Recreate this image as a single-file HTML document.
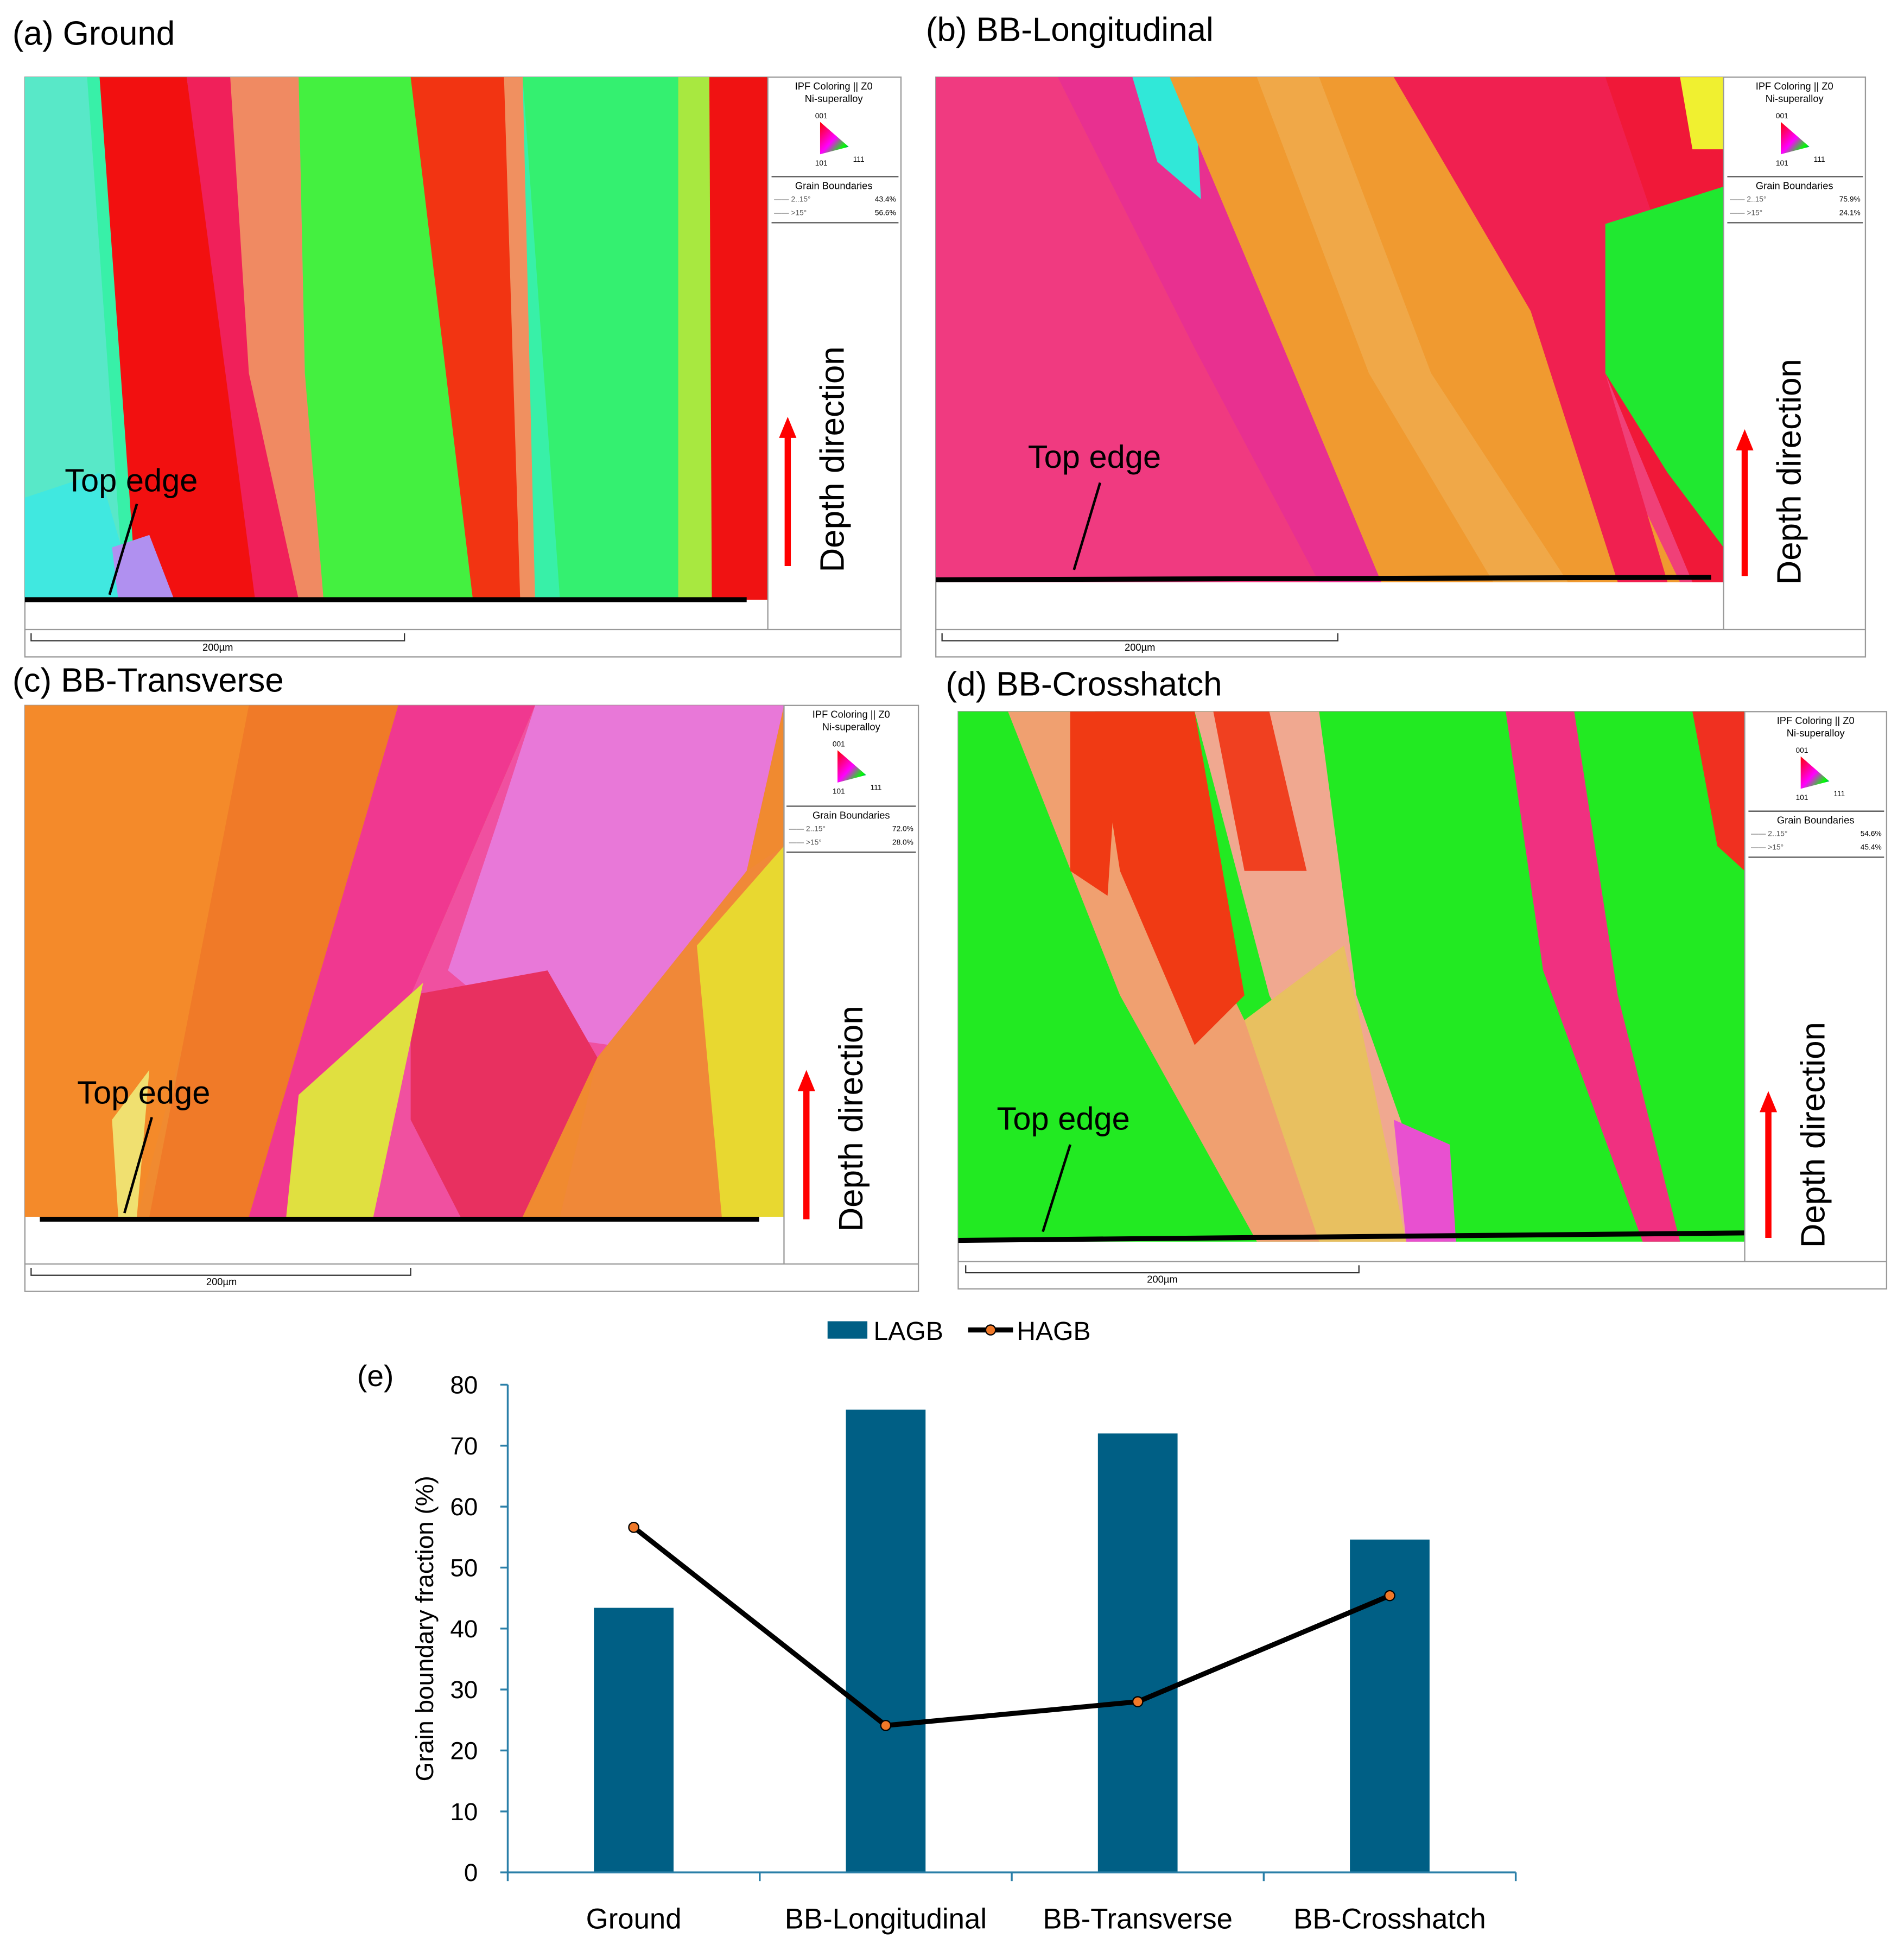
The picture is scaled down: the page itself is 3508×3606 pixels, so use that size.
<!DOCTYPE html>
<html><head><meta charset="utf-8"><style>
html,body{margin:0;padding:0;background:#fff}
svg{display:block}
text{font-family:"Liberation Sans",sans-serif}
</style></head><body>
<svg id="fig" width="3508" height="3606" viewBox="0 0 1530 1573" preserveAspectRatio="none" xmlns="http://www.w3.org/2000/svg">
<defs>
<linearGradient id="ipf" x1="0" y1="0" x2="1" y2="1"><stop offset="0" stop-color="#f00"/><stop offset="0.5" stop-color="#f0f"/><stop offset="0.8" stop-color="#0f0"/><stop offset="1" stop-color="#00f"/></linearGradient>
</defs>

<!-- Panel titles -->
<text x="10" y="36" font-size="27">(a) Ground</text>
<text x="744" y="33" font-size="27">(b) BB-Longitudinal</text>
<text x="10" y="556" font-size="27">(c) BB-Transverse</text>
<text x="760" y="559" font-size="27">(d) BB-Crosshatch</text>

<!-- Panel (a) -->
<g>
<rect x="20" y="62" width="704" height="466" fill="#fff" stroke="#999" stroke-width="1"/>
<g>
<rect x="20" y="62" width="597" height="420" fill="#38f0a8"/>
<polygon points="20,62 70,62 100,482 20,482" fill="#58e8c8"/>
<polygon points="80,62 150,62 210,482 110,482" fill="#f21010"/>
<polygon points="150,62 185,62 260,482 205,482" fill="#f0205a"/>
<polygon points="185,62 240,62 245,300 265,482 240,482 200,300" fill="#f08a62"/>
<polygon points="240,62 340,62 380,482 260,482 245,300" fill="#44f040"/>
<polygon points="330,62 420,62 425,482 380,482" fill="#f23412"/>
<polygon points="405,62 420,62 430,482 418,482" fill="#f09060"/>
<polygon points="420,62 555,62 545,482 450,482" fill="#34f070"/>
<polygon points="545,62 572,62 572,482 545,482" fill="#a8e840"/>
<polygon points="570,62 617,62 617,482 572,482" fill="#f01212"/>
<polygon points="20,400 80,380 110,482 20,482" fill="#40e8e0"/>
<polygon points="90,440 120,430 140,482 95,482" fill="#b090f0"/>
</g>
<line x1="20" y1="482" x2="600" y2="482" stroke="#000" stroke-width="4"/>
<line x1="617" y1="62" x2="617" y2="506" stroke="#999"/>
<line x1="20" y1="506" x2="724" y2="506" stroke="#999"/>
<path d="M25,509 V515 H325 V509" fill="none" stroke="#333"/>
<text x="175" y="523" font-size="8" text-anchor="middle">200µm</text>
<text x="670" y="72" font-size="8" text-anchor="middle">IPF Coloring || Z0</text>
<text x="670" y="82" font-size="8" text-anchor="middle">Ni-superalloy</text>
<text x="660" y="95" font-size="6" text-anchor="middle">001</text>
<polygon points="659,98 659,124 682,118" fill="url(#ipf)"/>
<text x="660" y="133" font-size="6" text-anchor="middle">101</text><text x="690" y="130" font-size="6" text-anchor="middle">111</text>
<line x1="620" y1="142" x2="722" y2="142" stroke="#555"/>
<text x="670" y="152" font-size="8" text-anchor="middle">Grain Boundaries</text>
<text x="622" y="162" font-size="6" fill="#555">—— 2..15°</text><text x="720" y="162" font-size="6" text-anchor="end">43.4%</text>
<text x="622" y="173" font-size="6" fill="#555">—— &gt;15°</text><text x="720" y="173" font-size="6" text-anchor="end">56.6%</text>
<line x1="620" y1="179" x2="722" y2="179" stroke="#555"/>
<text x="52" y="395" font-size="26">Top edge</text>
<line x1="110" y1="405" x2="88" y2="478" stroke="#000" stroke-width="2"/>
<line x1="633" y1="455" x2="633" y2="350" stroke="#f00" stroke-width="5"/><polygon points="626,352 640,352 633,335" fill="#f00"/>
<text transform="translate(678,460) rotate(-90)" font-size="27">Depth direction</text>
</g>

<!-- Panel (b) -->
<g>
<rect x="752" y="62" width="747" height="466" fill="#fff" stroke="#999"/>
<g>
<rect x="752" y="62" width="633" height="406" fill="#f04078"/>
<polygon points="752,62 910,62 1000,300 1100,468 752,468" fill="#f03a80"/>
<polygon points="850,62 940,62 1040,300 1110,468 1060,468 960,280" fill="#e83090"/>
<polygon points="910,62 960,62 965,160 930,130" fill="#30e8d8"/>
<polygon points="940,62 1120,62 1250,260 1350,468 1110,468 1040,300" fill="#f09a30"/>
<polygon points="1010,62 1060,62 1150,300 1260,468 1200,468 1100,300" fill="#f0a848"/>
<polygon points="1120,62 1290,62 1330,180 1290,300 1340,468 1300,468 1230,250" fill="#f02050"/>
<polygon points="1290,62 1385,62 1385,468 1360,468 1290,300 1330,180" fill="#f01838"/>
<polygon points="1290,180 1385,150 1385,440 1340,380 1290,300" fill="#20e830"/>
<polygon points="1350,62 1385,62 1385,120 1360,120" fill="#f0f030"/>
</g>
<line x1="752" y1="466" x2="1375" y2="464" stroke="#000" stroke-width="4"/>
<line x1="1385" y1="62" x2="1385" y2="506" stroke="#999"/>
<line x1="752" y1="506" x2="1499" y2="506" stroke="#999"/>
<path d="M757,509 V515 H1075 V509" fill="none" stroke="#333"/>
<text x="916" y="523" font-size="8" text-anchor="middle">200µm</text>
<text x="1442" y="72" font-size="8" text-anchor="middle">IPF Coloring || Z0</text>
<text x="1442" y="82" font-size="8" text-anchor="middle">Ni-superalloy</text>
<text x="1432" y="95" font-size="6" text-anchor="middle">001</text>
<polygon points="1431,98 1431,124 1454,118" fill="url(#ipf)"/>
<text x="1432" y="133" font-size="6" text-anchor="middle">101</text><text x="1462" y="130" font-size="6" text-anchor="middle">111</text>
<line x1="1388" y1="142" x2="1497" y2="142" stroke="#555"/>
<text x="1442" y="152" font-size="8" text-anchor="middle">Grain Boundaries</text>
<text x="1390" y="162" font-size="6" fill="#555">—— 2..15°</text><text x="1495" y="162" font-size="6" text-anchor="end">75.9%</text>
<text x="1390" y="173" font-size="6" fill="#555">—— &gt;15°</text><text x="1495" y="173" font-size="6" text-anchor="end">24.1%</text>
<line x1="1388" y1="179" x2="1497" y2="179" stroke="#555"/>
<text x="826" y="376" font-size="26">Top edge</text>
<line x1="884" y1="388" x2="863" y2="458" stroke="#000" stroke-width="2"/>
<line x1="1402" y1="463" x2="1402" y2="360" stroke="#f00" stroke-width="5"/><polygon points="1395,362 1409,362 1402,345" fill="#f00"/>
<text transform="translate(1447,470) rotate(-90)" font-size="27">Depth direction</text>
</g>

<!-- Panel (c) -->
<g>
<rect x="20" y="567" width="718" height="471" fill="#fff" stroke="#999"/>
<g>
<rect x="20" y="567" width="610" height="411" fill="#f08a30"/>
<polygon points="20,567 220,567 110,978 20,978" fill="#f48a2a"/>
<polygon points="200,567 320,567 200,978 120,978" fill="#f07a28"/>
<polygon points="320,567 430,567 330,800 250,978 200,978" fill="#f03890"/>
<polygon points="430,567 630,567 600,700 480,850 400,978 260,978 330,800" fill="#f050a0"/>
<polygon points="430,567 630,567 600,700 490,840 420,830 360,780 400,660" fill="#e878d8"/>
<polygon points="330,800 440,780 480,850 420,978 370,978 330,900" fill="#e83060"/>
<polygon points="480,850 600,700 630,680 630,978 450,978" fill="#f08838"/>
<polygon points="560,760 630,680 630,978 580,978" fill="#e8d830"/>
<polygon points="240,880 340,790 300,978 230,978" fill="#e0e040"/>
<polygon points="90,900 120,860 110,978 95,978" fill="#f0e070"/>
</g>
<line x1="32" y1="980" x2="610" y2="980" stroke="#000" stroke-width="4"/>
<line x1="630" y1="567" x2="630" y2="1016" stroke="#999"/>
<line x1="20" y1="1016" x2="738" y2="1016" stroke="#999"/>
<path d="M25,1019 V1025 H330 V1019" fill="none" stroke="#333"/>
<text x="178" y="1033" font-size="8" text-anchor="middle">200µm</text>
<text x="684" y="577" font-size="8" text-anchor="middle">IPF Coloring || Z0</text>
<text x="684" y="587" font-size="8" text-anchor="middle">Ni-superalloy</text>
<text x="674" y="600" font-size="6" text-anchor="middle">001</text>
<polygon points="673,603 673,629 696,623" fill="url(#ipf)"/>
<text x="674" y="638" font-size="6" text-anchor="middle">101</text><text x="704" y="635" font-size="6" text-anchor="middle">111</text>
<line x1="632" y1="648" x2="736" y2="648" stroke="#555"/>
<text x="684" y="658" font-size="8" text-anchor="middle">Grain Boundaries</text>
<text x="634" y="668" font-size="6" fill="#555">—— 2..15°</text><text x="734" y="668" font-size="6" text-anchor="end">72.0%</text>
<text x="634" y="679" font-size="6" fill="#555">—— &gt;15°</text><text x="734" y="679" font-size="6" text-anchor="end">28.0%</text>
<line x1="632" y1="685" x2="736" y2="685" stroke="#555"/>
<text x="62" y="887" font-size="26">Top edge</text>
<line x1="122" y1="898" x2="100" y2="975" stroke="#000" stroke-width="2"/>
<line x1="648" y1="980" x2="648" y2="875" stroke="#f00" stroke-width="5"/><polygon points="641,877 655,877 648,860" fill="#f00"/>
<text transform="translate(693,990) rotate(-90)" font-size="27">Depth direction</text>
</g>

<!-- Panel (d) -->
<g>
<rect x="770" y="572" width="746" height="464" fill="#fff" stroke="#999"/>
<g>
<rect x="770" y="572" width="632" height="426" fill="#22ea22"/>
<polygon points="810,572 880,572 1000,820 1130,998 1010,998 900,800" fill="#f0a070"/>
<polygon points="860,572 900,572 890,720 860,700" fill="#f03a14"/>
<polygon points="880,572 960,572 1000,800 960,840 900,700" fill="#f03a14"/>
<polygon points="960,572 1060,572 1090,800 1160,998 1120,998 1020,800" fill="#f0a890"/>
<polygon points="975,572 1020,572 1050,700 1000,700" fill="#f04020"/>
<polygon points="1000,820 1080,760 1130,998 1060,998" fill="#e8c060"/>
<polygon points="1120,900 1165,920 1170,998 1130,998" fill="#e850d0"/>
<polygon points="1210,572 1265,572 1300,800 1350,998 1320,998 1240,780" fill="#f03080"/>
<polygon points="1360,572 1402,572 1402,700 1380,680" fill="#f03020"/>
</g>
<line x1="770" y1="997" x2="1402" y2="991" stroke="#000" stroke-width="4"/>
<line x1="1402" y1="572" x2="1402" y2="1014" stroke="#999"/>
<line x1="770" y1="1014" x2="1516" y2="1014" stroke="#999"/>
<path d="M776,1017 V1023 H1092 V1017" fill="none" stroke="#333"/>
<text x="934" y="1031" font-size="8" text-anchor="middle">200µm</text>
<text x="1459" y="582" font-size="8" text-anchor="middle">IPF Coloring || Z0</text>
<text x="1459" y="592" font-size="8" text-anchor="middle">Ni-superalloy</text>
<text x="1448" y="605" font-size="6" text-anchor="middle">001</text>
<polygon points="1447,608 1447,634 1470,628" fill="url(#ipf)"/>
<text x="1448" y="643" font-size="6" text-anchor="middle">101</text><text x="1478" y="640" font-size="6" text-anchor="middle">111</text>
<line x1="1405" y1="652" x2="1514" y2="652" stroke="#555"/>
<text x="1459" y="662" font-size="8" text-anchor="middle">Grain Boundaries</text>
<text x="1407" y="672" font-size="6" fill="#555">—— 2..15°</text><text x="1512" y="672" font-size="6" text-anchor="end">54.6%</text>
<text x="1407" y="683" font-size="6" fill="#555">—— &gt;15°</text><text x="1512" y="683" font-size="6" text-anchor="end">45.4%</text>
<line x1="1405" y1="689" x2="1514" y2="689" stroke="#555"/>
<text x="801" y="908" font-size="26">Top edge</text>
<line x1="860" y1="920" x2="838" y2="990" stroke="#000" stroke-width="2"/>
<line x1="1421" y1="995" x2="1421" y2="892" stroke="#f00" stroke-width="5"/><polygon points="1414,894 1428,894 1421,877" fill="#f00"/>
<text transform="translate(1466,1003) rotate(-90)" font-size="27">Depth direction</text>
</g>

<!-- Chart (e) -->
<g id="chart"></g>
</svg>
<script>
const categories = ["Ground", "BB-Longitudinal", "BB-Transverse", "BB-Crosshatch"];
const lagbValues = [43.4, 75.9, 72.0, 54.6];
const hagbValues = [56.6, 24.1, 28.0, 45.4];
const yTicks = [0, 10, 20, 30, 40, 50, 60, 70, 80];

const NS = "http://www.w3.org/2000/svg";
const g = document.getElementById("chart");
const X0 = 408, X1 = 1218, Y0 = 1505, Y1 = 1113, YMAX = 80;
const bandW = (X1 - X0) / categories.length;
const xC = i => X0 + bandW * (i + 0.5);
const yS = v => Y0 - (v / YMAX) * (Y0 - Y1);
function mk(tag, attrs, parent) {
  const e = document.createElementNS(NS, tag);
  for (const k in attrs) e.setAttribute(k, attrs[k]);
  (parent || g).appendChild(e);
  return e;
}
let t = mk("text", {x: 287, y: 1114, "font-size": 24});
t.textContent = "(e)";



// legend
let lb = mk("rect", {x: 665, y: 1062, width: 32, height: 14, fill: "#005f85"});


let lt = mk("text", {x: 702, y: 1077, "font-size": 21});
lt.textContent = "LAGB";


let ll = mk("line", {x1: 778, y1: 1069, x2: 814, y2: 1069, stroke: "#000", "stroke-width": 4});


mk("circle", {cx: 796, cy: 1069, r: 4, fill: "#f07828", stroke: "#000", "stroke-width": 1});
let ht = mk("text", {x: 817, y: 1077, "font-size": 21});
ht.textContent = "HAGB";



// axes
let ya = mk("line", {x1: X0, y1: Y1, x2: X0, y2: Y0, stroke: "#2a7fa8", "stroke-width": 1.5});


yTicks.forEach(v => {
  mk("line", {x1: X0 - 6, y1: yS(v), x2: X0, y2: yS(v), stroke: "#2a7fa8", "stroke-width": 1.5});
  const tt = mk("text", {x: X0 - 24, y: yS(v) + 7, "font-size": 20, "text-anchor": "end"});
  tt.textContent = v;
  
  
});
let yt = mk("text", {transform: "translate(348,1309) rotate(-90)", "font-size": 20, "text-anchor": "middle"});
yt.textContent = "Grain boundary fraction (%)";



// bars
categories.forEach((c, i) => {
  const b = mk("rect", {x: xC(i) - 32, y: yS(lagbValues[i]), width: 64, height: Y0 - yS(lagbValues[i]), fill: "#005f85"});
  
  
});
let xa = mk("line", {x1: X0, y1: Y0, x2: X1, y2: Y0, stroke: "#2a7fa8", "stroke-width": 1.5});


for (let i = 0; i <= categories.length; i++) {
  mk("line", {x1: X0 + bandW * i, y1: Y0, x2: X0 + bandW * i, y2: Y0 + 7, stroke: "#2a7fa8", "stroke-width": 1.5});
}
categories.forEach((c, i) => {
  const tt = mk("text", {x: xC(i), y: 1550, "font-size": 23, "text-anchor": "middle"});
  tt.textContent = c;
  
  
});

// HAGB line
const pts = hagbValues.map((v, i) => xC(i) + "," + yS(v)).join(" ");
let pl = mk("polyline", {points: pts, fill: "none", stroke: "#000", "stroke-width": 4, "stroke-linejoin": "round"});


hagbValues.forEach((v, i) => {
  const p = mk("circle", {cx: xC(i), cy: yS(v), r: 4, fill: "#f07828", stroke: "#000", "stroke-width": 1});
  
  
});
</script>
</body></html>
